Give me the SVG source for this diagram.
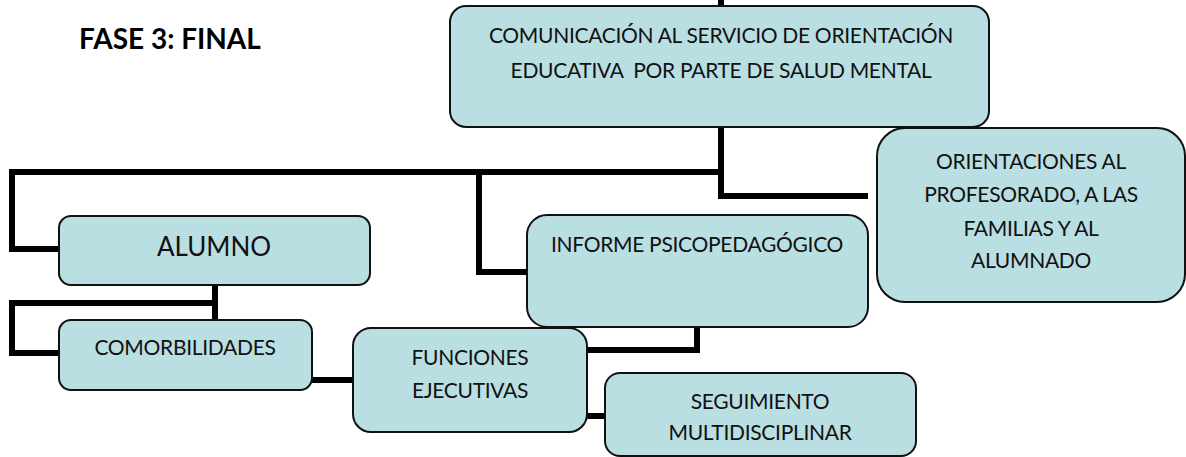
<svg xmlns="http://www.w3.org/2000/svg" width="1186" height="457" viewBox="0 0 1186 457">
<style>
.box{fill:#B9DFE3;stroke:#111;stroke-width:2}
.con{fill:none;stroke:#000;stroke-width:6;stroke-linejoin:miter;stroke-linecap:butt}
.t{font-family:Lato,"Open Sans","Liberation Sans",sans-serif;font-size:21px;letter-spacing:-0.3px;fill:#111;text-anchor:middle}
.big{font-size:26px;letter-spacing:0}
.title{font-family:Lato,"Open Sans","Liberation Sans",sans-serif;font-size:28px;font-weight:bold;fill:#000}
</style>
<rect width="1186" height="457" fill="#fff"/>
<text class="title" x="79" y="49">FASE 3: FINAL</text>
<g id="connectors">
<path class="con" d="M721 0 V8"/>
<path class="con" d="M721 126 V196 H868"/>
<path class="con" d="M721 172 H12 V249 H60"/>
<path class="con" d="M479 172 V272 H528"/>
<path class="con" d="M215 284 V321"/>
<path class="con" d="M215 303 H12 V353 H60"/>
<path class="con" d="M311 380 H354"/>
<path class="con" d="M697 326 V350 H586"/>
<path class="con" d="M586 416 H606"/>
</g>
<g id="node-comunicacion">
<rect class="box" x="450" y="6" width="539" height="121" rx="16"/>
<text class="t" x="721" y="43">COMUNICACIÓN AL SERVICIO DE ORIENTACIÓN</text>
<text class="t" x="721" y="78" xml:space="preserve">EDUCATIVA  POR PARTE DE SALUD MENTAL</text>
</g>
<g id="node-orientaciones">
<rect class="box" x="877" y="128" width="308" height="174" rx="28"/>
<text class="t" x="1031" y="169">ORIENTACIONES AL</text>
<text class="t" x="1031" y="202">PROFESORADO, A LAS</text>
<text class="t" x="1031" y="236">FAMILIAS Y AL</text>
<text class="t" x="1031" y="268">ALUMNADO</text>
</g>
<g id="node-alumno">
<rect class="box" x="59" y="216" width="311" height="69" rx="12"/>
<text class="t big" x="214" y="256">ALUMNO</text>
</g>
<g id="node-informe">
<rect class="box" x="527" y="215" width="341" height="112" rx="20"/>
<text class="t" x="697" y="252">INFORME PSICOPEDAGÓGICO</text>
</g>
<g id="node-comorbilidades">
<rect class="box" x="59" y="320" width="253" height="70" rx="12"/>
<text class="t" x="185" y="355">COMORBILIDADES</text>
</g>
<g id="node-funciones">
<rect class="box" x="353" y="328" width="234" height="104" rx="18"/>
<text class="t" x="470" y="365">FUNCIONES</text>
<text class="t" x="470" y="398">EJECUTIVAS</text>
</g>
<g id="node-seguimiento">
<rect class="box" x="605" y="373" width="311" height="83" rx="15"/>
<text class="t" x="760" y="409">SEGUIMIENTO</text>
<text class="t" x="760" y="440">MULTIDISCIPLINAR</text>
</g>
</svg>
